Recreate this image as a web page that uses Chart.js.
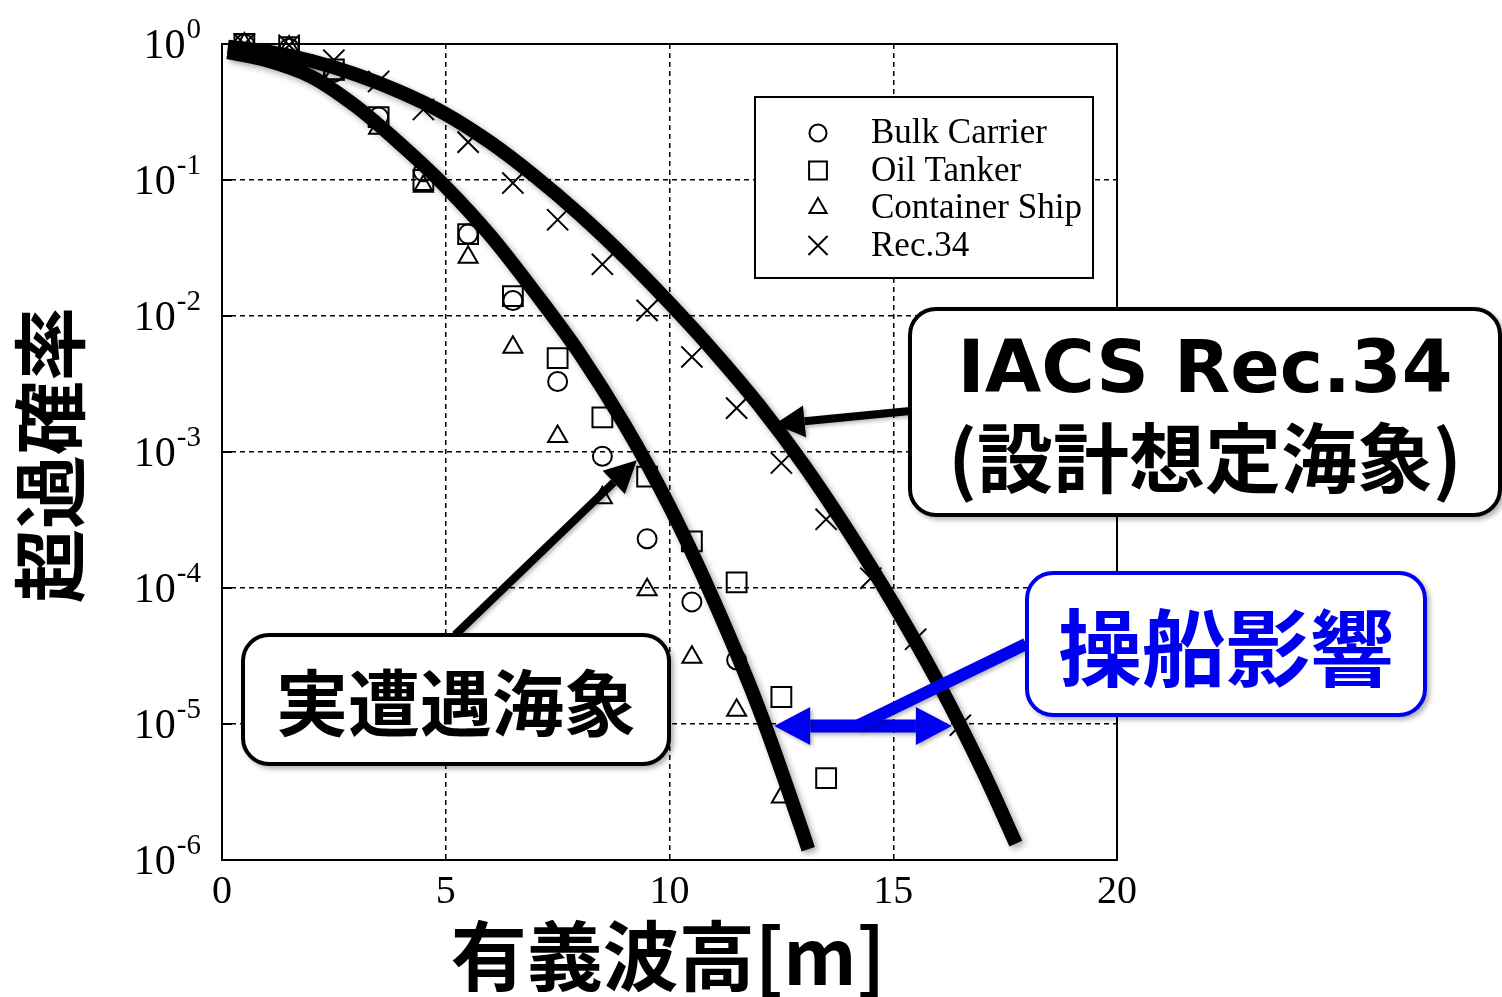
<!DOCTYPE html>
<html>
<head>
<meta charset="utf-8">
<script src="https://cdn.jsdelivr.net/npm/chart.js@4.4.1/dist/chart.umd.min.js"></script>
<style>
  body { margin: 0; background: #fff; }
  #wrap { position: relative; width: 1502px; height: 997px; overflow: hidden; }
  .box {
    position: absolute; box-sizing: border-box; background: #fff;
    border: 4px solid #000; border-radius: 28px;
    display: flex; flex-direction: column; align-items: center; justify-content: center;
    font-family: "Noto Sans CJK JP"; font-weight: bold; line-height: 1.18;
    box-shadow: 3px 3px 5px rgba(0,0,0,0.3);
  }
</style>
</head>
<body>
<div id="wrap">
  <canvas id="c" width="1502" height="997"></canvas>
  <div class="box" style="left:908px;top:307px;width:594px;height:210px;">
    <div style="font-family:'DejaVu Sans';font-size:73px;">IACS Rec.34</div>
    <div style="font-size:76px;">(設計想定海象)</div>
  </div>
  <div class="box" style="left:241px;top:633px;width:430px;height:133px;font-size:72px;">実遭遇海象</div>
  <div class="box" style="left:1025px;top:571px;width:402px;height:146px;font-size:84px;color:#0000f0;border-color:#0000f0;">操船影響</div>
</div>
<script>
// ---- data ----
const binX = [0.5, 1.5, 2.5, 3.5, 4.5, 5.5, 6.5, 7.5, 8.5, 9.5, 10.5, 11.5, 12.5, 13.5, 14.5, 15.5, 16.5];
const bulk = [1.0, 0.93, 0.62, 0.29, 0.115, 0.04, 0.013, 0.0033, 0.00093, 0.00023, 0.000079, 0.0000295];
const tanker = [1.0, 0.95, 0.65, 0.29, 0.1, 0.04, 0.014, 0.0049, 0.0018, 0.00066, 0.00022, 0.00011, 0.0000158, 0.000004];
const container = [1.0, 0.95, 0.6, 0.24, 0.09, 0.027, 0.0059, 0.0013, 0.00046, 0.000097, 0.000031, 0.0000126, 0.0000029];
const rec34 = [1.0, 0.98, 0.76, 0.53, 0.33, 0.19, 0.095, 0.051, 0.024, 0.011, 0.005, 0.0021, 0.00083, 0.00032, 0.000118, 0.000042, 0.0000098];

// fitted curves
const encX = [0.13, 1, 2, 3, 4, 5, 6, 7, 8, 9, 10, 11, 12, 13, 13.1];
const encY = [0.871, 0.759, 0.575, 0.347, 0.182, 0.0891, 0.0389, 0.01479, 0.00525, 0.00158, 0.000398, 0.0000794, 0.0000129, 0.00000151, 0.0000012];
const desX = [0.13, 1, 2, 3, 4, 5, 6, 7, 8, 9, 10, 11, 12, 13, 14, 15, 16, 17, 17.74];
const desY = [0.955, 0.881, 0.75, 0.596, 0.442, 0.3055, 0.1884, 0.1059, 0.0556, 0.0272, 0.01245, 0.00543, 0.00221, 0.000804, 0.00026, 0.0000767, 0.0000202, 0.00000452, 0.00000132];

const xTicks = [0, 5, 10, 15, 20];
const yExp = [0, -1, -2, -3, -4, -5, -6];
const seriesNames = ['Bulk Carrier', 'Oil Tanker', 'Container Ship', 'Rec.34'];

const pts = (xs, ys) => ys.map((v, i) => ({ x: xs[i], y: v }));

const markerStyle = [
  { pointStyle: 'circle', radius: 9.5 },
  { pointStyle: 'rect', radius: 14 },
  { pointStyle: 'triangle', radius: 11 },
  { pointStyle: 'crossRot', radius: 15 }
];

function markerSet(label, data, k) {
  return {
    label: label, data: pts(binX, data), showLine: false, clip: false,
    pointStyle: markerStyle[k].pointStyle, pointRadius: markerStyle[k].radius,
    pointBorderColor: '#000', pointBackgroundColor: 'rgba(0,0,0,0)', pointBorderWidth: 2
  };
}
function curveSet(label, xs, ys) {
  return {
    label: label, data: pts(xs, ys), showLine: true, isCurve: true,
    borderColor: '#000', borderWidth: 14, borderCapStyle: 'butt',
    cubicInterpolationMode: 'monotone', pointRadius: 0, clip: false
  };
}

function arrow(ctx, x1, y1, x2, y2, w, hl, hw, color) {
  const a = Math.atan2(y2 - y1, x2 - x1);
  const bx = x2 - hl * Math.cos(a), by = y2 - hl * Math.sin(a);
  ctx.strokeStyle = color; ctx.fillStyle = color; ctx.lineWidth = w; ctx.lineCap = 'butt';
  ctx.beginPath(); ctx.moveTo(x1, y1); ctx.lineTo(bx, by); ctx.stroke();
  ctx.beginPath();
  ctx.moveTo(x2, y2);
  ctx.lineTo(bx + hw / 2 * Math.sin(a), by - hw / 2 * Math.cos(a));
  ctx.lineTo(bx - hw / 2 * Math.sin(a), by + hw / 2 * Math.cos(a));
  ctx.closePath(); ctx.fill();
}

const decor = {
  id: 'decor',
  beforeDatasetDraw(chart, args) {
    if (chart.data.datasets[args.index].isCurve) {
      const ctx = chart.ctx;
      ctx.save();
      ctx.shadowColor = 'rgba(0,0,0,0.35)'; ctx.shadowBlur = 6;
      ctx.shadowOffsetX = 3; ctx.shadowOffsetY = 3;
    }
  },
  afterDatasetDraw(chart, args) {
    if (chart.data.datasets[args.index].isCurve) chart.ctx.restore();
  },
  afterDraw(chart) {
    const ctx = chart.ctx, ca = chart.chartArea;
    const xs = chart.scales.x, ys = chart.scales.y;
    ctx.save();
    // frame + inner ticks
    ctx.strokeStyle = '#000'; ctx.lineWidth = 2;
    ctx.strokeRect(ca.left, ca.top, ca.right - ca.left, ca.bottom - ca.top);
    yExp.forEach(e => {
      const y = ys.getPixelForValue(Math.pow(10, e));
      ctx.beginPath(); ctx.moveTo(ca.left, y); ctx.lineTo(ca.left + 10, y); ctx.stroke();
    });
    // y tick labels with superscripts
    ctx.fillStyle = '#000'; ctx.textBaseline = 'alphabetic';
    yExp.forEach(e => {
      const y = ys.getPixelForValue(Math.pow(10, e));
      const sup = String(e);
      ctx.font = '29px "Liberation Serif"';
      const sw = ctx.measureText(sup).width;
      ctx.textAlign = 'right';
      ctx.fillText(sup, 201, y - 6);
      ctx.font = '42px "Liberation Serif"';
      ctx.fillText('10', 200 - sw, y + 14);
    });
    // x tick labels
    ctx.font = '40px "Liberation Serif"'; ctx.textAlign = 'center';
    xTicks.forEach(v => ctx.fillText(String(v), xs.getPixelForValue(v), 903));
    // axis titles
    ctx.font = 'bold 76px "Noto Sans CJK JP"'; ctx.textBaseline = 'middle';
    ctx.fillText('有義波高[m]', 668, 956);
    ctx.save();
    ctx.translate(50, 455); ctx.rotate(-Math.PI / 2);
    ctx.font = 'bold 74px "Noto Sans CJK JP"';
    ctx.fillText('超過確率', 0, 0);
    ctx.restore();
    // legend
    ctx.fillStyle = '#fff'; ctx.fillRect(755, 97, 338, 181);
    ctx.strokeStyle = '#000'; ctx.lineWidth = 2; ctx.strokeRect(755, 97, 338, 181);
    seriesNames.forEach((name, i) => {
      const y = 133 + i * 37.5;
      ctx.fillStyle = 'rgba(0,0,0,0)'; ctx.strokeStyle = '#000'; ctx.lineWidth = 2;
      Chart.helpers.drawPoint(ctx, { pointStyle: markerStyle[i].pointStyle, radius: markerStyle[i].radius * 0.9, rotation: 0, borderWidth: 2 }, 818, y);
      ctx.fillStyle = '#000'; ctx.font = '35px "Liberation Serif"';
      ctx.textAlign = 'left'; ctx.textBaseline = 'middle';
      ctx.fillText(name, 871, y + 1);
    });
    // annotation arrows
    ctx.shadowColor = 'rgba(0,0,0,0.3)'; ctx.shadowBlur = 4; ctx.shadowOffsetX = 2; ctx.shadowOffsetY = 2;
    arrow(ctx, 910, 411, xs.getPixelForValue(12.35), ys.getPixelForValue(0.0016), 8, 30, 32, '#000');
    arrow(ctx, 455, 635, xs.getPixelForValue(9.27), ys.getPixelForValue(0.00087), 8, 32, 32, '#000');
    const yb = ys.getPixelForValue(0.00001) + 2;
    const xl = xs.getPixelForValue(12.34), xr = xs.getPixelForValue(16.31), xm = (xl + xr) / 2;
    arrow(ctx, xm, yb, xl, yb, 13, 36, 38, '#0000f0');
    arrow(ctx, xm, yb, xr, yb, 13, 36, 38, '#0000f0');
    ctx.strokeStyle = '#0000f0'; ctx.lineWidth = 12;
    ctx.beginPath(); ctx.moveTo(xm - 6, yb); ctx.lineTo(1026, 644); ctx.stroke();
    ctx.restore();
  }
};

new Chart(document.getElementById('c'), {
  type: 'scatter',
  data: {
    datasets: [
      markerSet(seriesNames[0], bulk, 0),
      markerSet(seriesNames[1], tanker, 1),
      markerSet(seriesNames[2], container, 2),
      markerSet(seriesNames[3], rec34, 3),
      curveSet('実遭遇海象', encX, encY),
      curveSet('設計想定海象', desX, desY)
    ]
  },
  options: {
    responsive: false,
    devicePixelRatio: 1,
    animation: false,
    layout: { padding: { left: 222, top: 44, right: 385, bottom: 137 } },
    plugins: { legend: { display: false }, tooltip: { enabled: false } },
    scales: {
      x: {
        type: 'linear', min: 0, max: 20,
        ticks: { display: false, stepSize: 5 },
        afterBuildTicks: s => { s.ticks = xTicks.map(v => ({ value: v })); },
        grid: { color: '#000', lineWidth: 1.5, drawTicks: false },
        border: { display: false, dash: [5, 4] }
      },
      y: {
        type: 'logarithmic', min: 1e-6, max: 1,
        ticks: { display: false },
        afterBuildTicks: s => { s.ticks = yExp.map(e => ({ value: Math.pow(10, e) })); },
        grid: { color: '#000', lineWidth: 1.5, drawTicks: false },
        border: { display: false, dash: [5, 4] }
      }
    }
  },
  plugins: [decor]
});
</script>
</body>
</html>
